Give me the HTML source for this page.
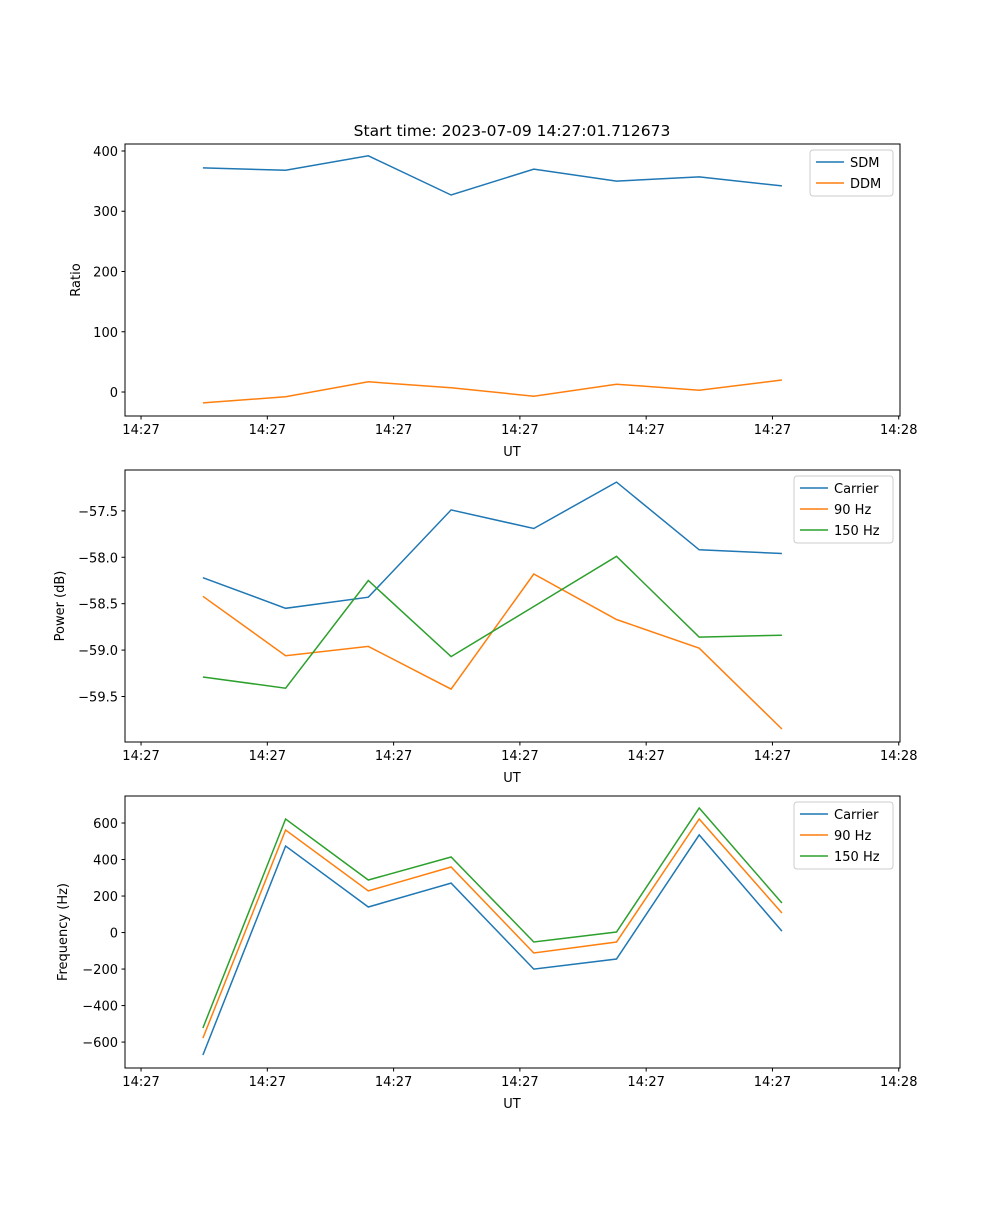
<!DOCTYPE html>
<html><head><meta charset="utf-8"><style>
body{margin:0;background:#fff}
svg text{font-family:"DejaVu Sans","Liberation Sans",sans-serif;font-size:13px;fill:#000}
</style></head><body>
<svg id="fig" width="1000" height="1200" xmlns="http://www.w3.org/2000/svg">
<text x="512" y="136" text-anchor="middle" style="font-size:15.5px">Start time: 2023-07-09 14:27:01.712673</text>
</svg>
<script>
const times = [4.9, 11.45, 18.0, 24.55, 31.1, 37.65, 44.2, 50.75];
const xTickVals = [0, 10, 20, 30, 40, 50, 60];
const xTickLabels = ["14:27","14:27","14:27","14:27","14:27","14:27","14:28"];
const sdm = [372, 368, 392, 327, 370, 350, 357, 342];
const ddm = [-18, -8, 17, 7, -7, 13, 3, 20];
const pCarrier = [-58.22, -58.55, -58.43, -57.49, -57.69, -57.19, -57.92, -57.96];
const p90 = [-58.42, -59.06, -58.96, -59.42, -58.18, -58.67, -58.98, -59.85];
const p150 = [-59.29, -59.41, -58.25, -59.07, -58.53, -57.99, -58.86, -58.84];
const fCarrier = [-671, 474, 140, 271, -200, -145, 535, 8];
const f90 = [-578, 562, 228, 359, -112, -52, 622, 107];
const f150 = [-523, 622, 288, 414, -52, 3, 682, 162];
const ratioTicks = [0, 100, 200, 300, 400];
const powerTicks = [-59.5, -59.0, -58.5, -58.0, -57.5];
const freqTicks = [-600, -400, -200, 0, 200, 400, 600];

const NS = "http://www.w3.org/2000/svg";
const svg = document.getElementById('fig');
const C = ['#1f77b4', '#ff7f0e', '#2ca02c'];
function el(tag, attrs, parent) {
  const e = document.createElementNS(NS, tag);
  for (const k in attrs) e.setAttribute(k, attrs[k]);
  (parent || svg).appendChild(e);
  return e;
}
const L = 125, R = 900, xmin = -1.27, xmax = 60.1;
const xs = v => L + (v - xmin) / (xmax - xmin) * (R - L);

function panel(name, top, ymin, ymax, yticks, fmt, ylabel, series, labels, legX, legW) {
  const bot = top + 272;
  const ys = v => bot - (v - ymin) / (ymax - ymin) * (bot - top);
  const g = el('g', {});
  
  
  series.forEach((s, i) => {
    const p = el('polyline', {points: s.map((v, j) => xs(times[j]).toFixed(1) + ',' + ys(v).toFixed(1)).join(' '), fill: 'none', stroke: C[i], 'stroke-width': 1.5}, g);
    
    
  });
  el('rect', {x: L, y: top, width: R - L, height: bot - top, fill: 'none', stroke: '#000', 'stroke-width': 1}, g);
  xTickVals.forEach((v, i) => {
    const x = xs(v);
    el('line', {x1: x, x2: x, y1: bot, y2: bot + 3.5, stroke: '#000'}, g);
    const t = el('text', {x: x, y: bot + 18, 'text-anchor': 'middle'}, g);
    t.textContent = xTickLabels[i];
    
    
  });
  const xl = el('text', {x: 512, y: bot + 40, 'text-anchor': 'middle'}, g);
  xl.textContent = 'UT';
  
  
  yticks.forEach(v => {
    const y = ys(v);
    el('line', {x1: L - 3.5, x2: L, y1: y, y2: y, stroke: '#000'}, g);
    const t = el('text', {x: L - 7, y: y + 5, 'text-anchor': 'end'}, g);
    t.textContent = fmt(v);
    
    
  });
  const yx = {ratio: 80, power: 64, freq: 67}[name];
  const yl = el('text', {x: yx, y: (top + bot) / 2, 'text-anchor': 'middle', transform: 'rotate(-90 ' + yx + ' ' + (top + bot) / 2 + ')'}, g);
  yl.textContent = ylabel;
  
  
  const lg = el('g', {}, g);
  
  
  el('rect', {x: legX, y: top + 6, width: legW, height: 4 + 21 * labels.length, rx: 3, fill: '#fff', 'fill-opacity': 0.8, stroke: '#ccc'}, lg);
  labels.forEach((lab, i) => {
    const y = top + 18 + 21 * i;
    el('line', {x1: legX + 6, x2: legX + 34, y1: y, y2: y, stroke: C[i], 'stroke-width': 1.5}, lg);
    const t = el('text', {x: legX + 40, y: y + 5}, lg);
    t.textContent = lab;
    
    
  });
}
const minus = v => String(v).replace('-', '\u2212');
panel('ratio', 144, -39.8, 411.6, ratioTicks, v => String(v), 'Ratio', [sdm, ddm], ['SDM', 'DDM'], 810, 83);
panel('power', 470, -59.99, -57.06, powerTicks, v => minus(v.toFixed(1)), 'Power (dB)', [pCarrier, p90, p150], ['Carrier', '90 Hz', '150 Hz'], 794, 99);
panel('freq', 796, -742, 748, freqTicks, v => minus(v), 'Frequency (Hz)', [fCarrier, f90, f150], ['Carrier', '90 Hz', '150 Hz'], 794, 99);
</script>
</body></html>
